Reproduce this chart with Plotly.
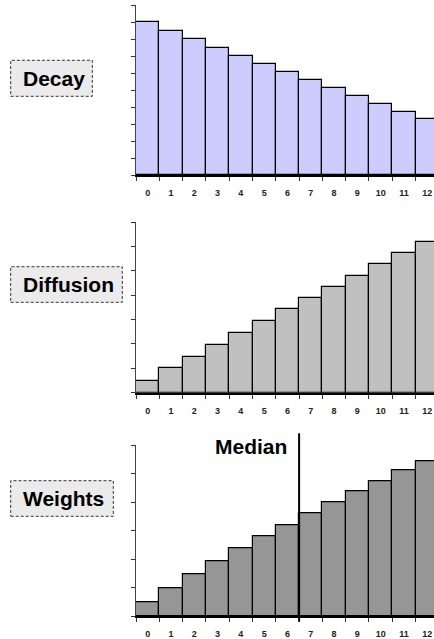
import plotly.graph_objects as go

categories = [str(i) for i in range(13)]
decay = [9.0, 8.5, 8.0, 7.5, 7.0, 6.55, 6.06, 5.6, 5.12, 4.65, 4.18, 3.72, 3.29]
diffusion = [0.5, 1.0, 1.48, 1.95, 2.46, 2.94, 3.42, 3.87, 4.34, 4.8, 5.26, 5.71, 6.16]
weights = [0.49, 0.97, 1.46, 1.92, 2.37, 2.79, 3.21, 3.61, 4.0, 4.4, 4.75, 5.11, 5.44]
panel_labels = ["Decay", "Diffusion", "Weights"]
y_max = [10, 7, 6]
median_pos = 6.5
median_label = "Median"

W, H = 434, 639
FONT = "Liberation Sans, Arial, sans-serif"

# pixel layout of the three panels (top, bottom)
panels_px = [(5, 175.3), (222, 392.7), (445.3, 616.3)]
left_px = 136
colors = ["#ccccff", "#c0c0c0", "#969696"]
series = [decay, diffusion, weights]
box_px = [(10.7, 60.3, 92.3, 96.3), (10.7, 266.7, 122.3, 302.3), (10.7, 480.7, 113.3, 516.3)]

fig = go.Figure()
layout = dict(
    width=W, height=H, margin=dict(l=0, r=0, t=0, b=0),
    paper_bgcolor="white", plot_bgcolor="white", showlegend=False,
    bargap=0, shapes=[], annotations=[],
)

for i in range(3):
    n = "" if i == 0 else str(i + 1)
    fig.add_trace(go.Bar(
        x=categories, y=series[i], xaxis="x" + n, yaxis="y" + n,
        marker=dict(color=colors[i], line=dict(color="black", width=1.2)),
        width=1.0,
    ))
    top, bot = panels_px[i]
    layout["xaxis" + n] = dict(
        type="category", domain=[left_px / W, 1], anchor="y" + n,
        range=[-0.5, 12.29], tickson="boundaries", ticks="outside", ticklen=4,
        tickwidth=1, tickcolor="#333", showline=True, linecolor="black", linewidth=2,
        showgrid=False, zeroline=False, fixedrange=True,
        tickfont=dict(family=FONT, size=9, color="#222", weight="bold"),
        ticklabelstandoff=8,
    )
    layout["yaxis" + n] = dict(
        domain=[1 - bot / H, 1 - top / H], anchor="x" + n,
        range=[0, y_max[i]], dtick=1, tick0=0, ticks="outside", ticklen=4,
        tickwidth=1, tickcolor="#333", showline=True, linecolor="#444", linewidth=1,
        showticklabels=False, showgrid=False, zeroline=False, fixedrange=True,
    )
    x0, y0, x1, y1 = box_px[i]
    layout["shapes"].append(dict(
        type="rect", xref="paper", yref="paper",
        x0=x0 / W, x1=x1 / W, y0=1 - y1 / H, y1=1 - y0 / H,
        fillcolor="#ebebeb", line=dict(color="#333", width=1, dash="3px,2px"),
        layer="below",
    ))
    layout["annotations"].append(dict(
        text="<b>%s</b>" % panel_labels[i], xref="paper", yref="paper",
        x=20.5 / W, y=1 - ((y0 + y1) / 2) / H, xanchor="left", yanchor="middle",
        showarrow=False, font=dict(family=FONT, size=21, color="black"),
    ))

# median line in bottom panel
layout["shapes"].append(dict(
    type="line", xref="x3", yref="paper", x0=median_pos, x1=median_pos,
    y0=1 - 621.7 / H, y1=1 - 433.3 / H, line=dict(color="black", width=2),
))
layout["annotations"].append(dict(
    text="<b>%s</b>" % median_label, xref="x3", yref="paper",
    x=median_pos, y=1 - 446.7 / H, xanchor="right", yanchor="middle", xshift=-10,
    showarrow=False, font=dict(family=FONT, size=21, color="black"),
))

fig.update_layout(**layout)
fig.write_html(
    "out.html",
    config={"displayModeBar": False},
    post_script="document.body.style.margin='0';document.body.style.overflow='hidden';",
)
